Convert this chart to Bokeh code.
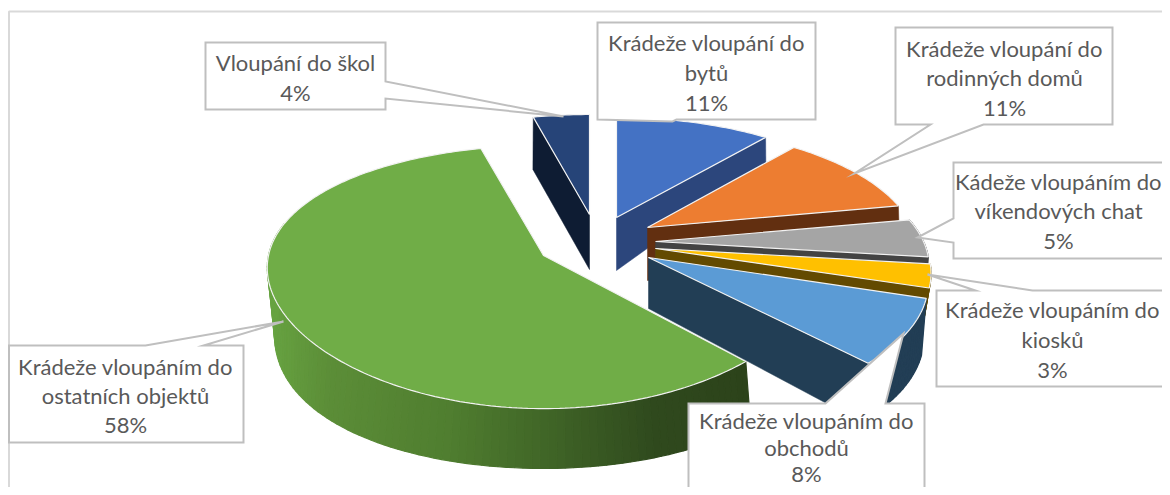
import math
from bokeh.plotting import figure
from bokeh.models import Range1d
from bokeh.core.properties import value
from bokeh.embed import file_html
from bokeh.resources import INLINE

# ---- data (clockwise from 12 o'clock) ----
categories = [
    "Krádeže vloupání do\nbytů",
    "Krádeže vloupání do\nrodinných domů",
    "Kádeže vloupáním do\nvíkendových chat",
    "Krádeže vloupáním do\nkiosků",
    "Krádeže vloupáním do\nobchodů",
    "Krádeže vloupáním do\nostatních objektů",
    "Vloupání do škol",
]
shares = [11, 11, 5, 3, 8, 58, 4]

# ---- styles ----
top_colors = ["#4472C4", "#ED7D31", "#A5A5A5", "#FFC000", "#5B9BD5", "#70AD47", "#264478"]
wall_colors = ["#2C467C", "#622F10", "#434343", "#634A00", "#223E55", "#2C431A", "#0E1C33"]
green_stops = [(266, (104, 164, 66)), (330, (92, 142, 56)), (450, (80, 126, 48)),
               (560, (62, 98, 38)), (650, (48, 74, 30)), (760, (44, 66, 26))]
TEXT = "#595959"
BOX = "#BFBFBF"
FRAME = "#D9D9D9"
FONT = "Lato"
FONT_SIZE = "22px"

# ---- projection layout: exploded apex per slice (screen px), ellipse parameters ----
apex = [(616, 217), (647, 227), (655, 241), (655, 248), (648, 257), (543, 255), (589, 214)]
depth = [53, 53, 53, 53, 51, 55, 55]
top_rx = [270, 265, 268, 270, 274, 275, 270]
top_ry = [120, 120, 120, 120, 124, 128, 120]
top_ky = [.2, .2, .2, .2, .2, .164, .2]
top_kx = [.2, .2, .2, .2, .2, .095, .2]
bot_ry = [145, 149, 149, 149, 149, 149, 109]
bot_rx = [265, 265, 265, 262, 272, 265, 265]
BOT_KX, BOT_KY = .17, .0567
draw_order = [6, 0, 1, 2, 3, 5, 4]
has_outer = {2, 3, 4, 5}
cut_at_end = {0, 1, 2, 3, 4}
cut_at_start = {6}
OUTER_LIMIT = 285

# ---- label layout ----
label_boxes = [
    dict(x0=597, x1=815, y0=22, y1=119, cx=706, ys=[42, 72, 102], call=("b", 672, 121, 676)),
    dict(x0=895, x1=1112, y0=27, y1=124, cx=1004, ys=[48, 77, 107], call=("b", 983, 854, 173, 930)),
    dict(x0=953, x1=1180, y0=162, y1=258, cx=1058, ys=[181, 210, 240], call=("l", 218, 917, 237, 242)),
    dict(x0=936, x1=1180, y0=290, y1=386, cx=1052, ys=[309, 339, 369], call=("t", 975, 927, 274, 1032)),
    dict(x0=688, x1=924, y0=403, y1=500, cx=806, ys=[420, 447, 473], call=("t", 825, 903, 333, 885)),
    dict(x0=8.5, x1=243, y0=345, y1=442, cx=125, ys=[366, 395, 424], call=("t", 145, 283, 321, 203)),
    dict(x0=205, x1=385, y0=42, y1=109, cx=295, ys=[62, 92], call=("r", 81, 563, 116, 98)),
]

p = figure(width=1162, height=487, x_range=Range1d(0, 1162), y_range=Range1d(487, 0),
           output_backend="svg", toolbar_location=None, min_border=0,
           x_axis_location=None, y_axis_location=None, outline_line_color=None,
           background_fill_color="white", border_fill_color="white")
p.grid.visible = False


def top_pt(i, deg):
    t = math.radians(deg)
    x, y = math.sin(t), -math.cos(t)
    return (apex[i][0] + top_rx[i] * x / (1 - top_kx[i] * y),
            apex[i][1] + top_ry[i] * y / (1 - top_ky[i] * y))


def bot_pt(i, deg):
    t = math.radians(deg)
    x, y = math.sin(t), -math.cos(t)
    return (apex[i][0] + bot_rx[i] * x / (1 - BOT_KX * y),
            apex[i][1] + depth[i] + bot_ry[i] * y / (1 - BOT_KY * y))


def arc(a, b, step=1.0):
    n = max(2, int(abs(b - a) / step) + 1)
    return [a + (b - a) * k / (n - 1) for k in range(n)]


def green_col(x):
    for (x0, c0), (x1, c1) in zip(green_stops, green_stops[1:]):
        if x <= x1:
            f = max(0, (x - x0) / (x1 - x0))
            return "#%02x%02x%02x" % tuple(int(a + (b - a) * f) for a, b in zip(c0, c1))
    return "#%02x%02x%02x" % green_stops[-1][1]


# angles come from the shares
total = sum(shares)
starts, ends, acc = [], [], 0
for s in shares:
    starts.append(360 * acc / total)
    acc += s
    ends.append(360 * acc / total)

# frame
p.line([8.5, 8.5, 1170], [495, 11, 11], line_color=FRAME, line_width=2)

# slices
for i in draw_order:
    a, b = starts[i], ends[i]
    wall = wall_colors[i]
    ax, ay = apex[i]
    if i in has_outer:
        lim = min(b, OUTER_LIMIT)
        angs = arc(a, lim, 1.5)
        xs, ys, cols = [], [], []
        for u, v in zip(angs, angs[1:]):
            t0, t1, b1, b0 = top_pt(i, u), top_pt(i, v), bot_pt(i, v), bot_pt(i, u)
            xs.append([t0[0], t1[0], b1[0], b0[0]])
            ys.append([t0[1], t1[1], b1[1], b0[1]])
            cols.append(green_col((t0[0] + t1[0]) / 2) if i == 5 else wall)
        p.patches(xs, ys, fill_color=cols, line_color=cols, line_width=1.2)
    for cut, ang in ((i in cut_at_end, b), (i in cut_at_start, a)):
        if cut:
            t, bt = top_pt(i, ang), bot_pt(i, ang)
            p.patch([ax, t[0], bt[0], ax], [ay, t[1], bt[1], ay + depth[i]],
                    fill_color=wall, line_color=wall, line_width=0.5)
    pts = [top_pt(i, d) for d in arc(a, b)]
    p.patch([ax] + [q[0] for q in pts], [ay] + [q[1] for q in pts],
            fill_color=top_colors[i], line_color="#F2F2F2", line_width=1.2)

# label boxes with callouts
for box in label_boxes:
    x0, x1, y0, y1 = box["x0"], box["x1"], box["y0"], box["y1"]
    c = box["call"]
    if c[0] == "t":
        xs = [x0, c[1], c[2], c[4], x1, x1, x0]
        ys = [y0, y0, c[3], y0, y0, y1, y1]
    elif c[0] == "b":
        if len(c) == 4:
            xs = [x0, x1, x1, c[3], c[1], x0]
            ys = [y0, y0, y1, y1, c[2], y1]
        else:
            xs = [x0, x1, x1, c[1], c[2], c[4], x0]
            ys = [y0, y0, y1, y1, c[3], y1, y1]
    elif c[0] == "l":
        xs = [x0, x1, x1, x0, x0, c[2], x0]
        ys = [y0, y0, y1, y1, c[4], c[3], c[1]]
    else:
        xs = [x0, x1, x1, c[2], x1, x1, x0]
        ys = [y0, y0, c[1], c[3], c[4], y1, y1]
    p.patch(xs, ys, fill_color="white", line_color=BOX, line_width=2, line_join="miter")

# label texts
tx, ty, tt = [], [], []
for name, share, box in zip(categories, shares, label_boxes):
    lines = name.split("\n") + [f"{share}%"]
    for line, y in zip(lines, box["ys"]):
        tx.append(box["cx"]); ty.append(y); tt.append(line)
p.text(tx, ty, text=tt, text_font=value(FONT), text_font_size=value(FONT_SIZE),
       text_color=TEXT, text_align="center", text_baseline="middle")

open("out.html", "w").write(file_html(p, INLINE))
